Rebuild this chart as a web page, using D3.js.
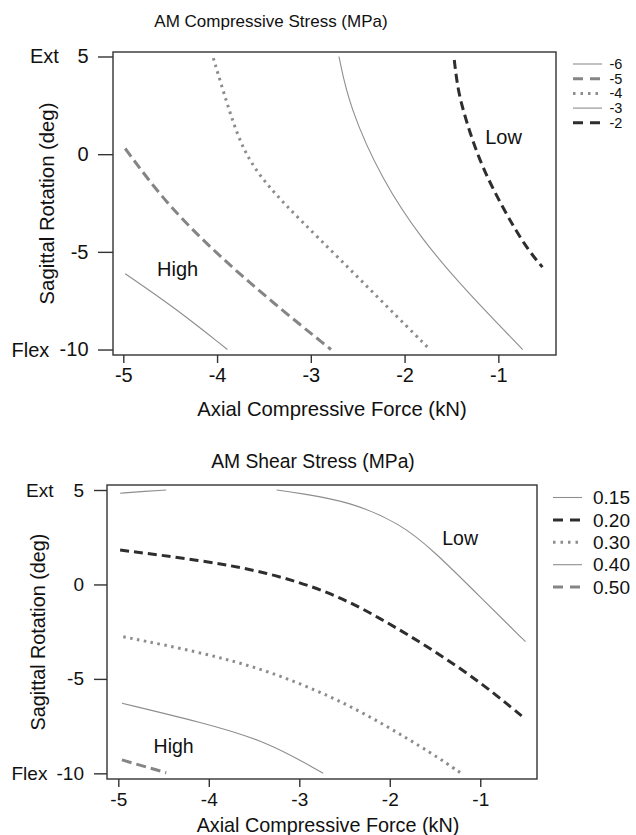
<!DOCTYPE html>
<html>
<head>
<meta charset="utf-8">
<script src="https://cdn.jsdelivr.net/npm/d3@7/dist/d3.min.js"></script>
<style>
  html, body { margin: 0; padding: 0; background: #fff; }
  svg { display: block; }
  text { font-family: "Liberation Sans", Arial, Helvetica, sans-serif; fill: #111; }
</style>
</head>
<body>
<script>
// ---------- DATA ----------
const xTicks = [-5, -4, -3, -2, -1];
const yTicks = [5, 0, -5, -10];

// Top panel: AM Compressive Stress (MPa) contours, [axial force kN, sagittal rotation deg]
const compLevels = ["-6", "-5", "-4", "-3", "-2"];
const comp_m6 = [[-4.98, -6.12], [-4.44, -7.90], [-3.89, -10.0]];
const comp_m5 = [[-4.98, 0.29], [-4.555, -2.46], [-4.02, -5.03], [-3.435, -7.49], [-2.785, -10.0]];
const comp_m4 = [[-4.04, 4.92], [-3.89, 2.51], [-3.71, -0.05], [-3.42, -1.85], [-3.11, -3.38], [-2.70, -5.33], [-2.22, -7.64], [-1.74, -9.95]];
const comp_m3 = [[-2.70, 5.0], [-2.59, 2.43], [-2.24, -1.33], [-1.81, -4.41], [-1.35, -6.97], [-0.74, -10.0]];
const comp_m2 = [[-1.47, 4.82], [-1.44, 3.60], [-1.39, 2.43], [-1.21, -0.31], [-0.96, -2.70], [-0.71, -4.75], [-0.53, -5.78]];
const compSeries = [[comp_m6], [comp_m5], [comp_m4], [comp_m3], [comp_m2]];

// Bottom panel: AM Shear Stress (MPa) contours
const shearLevels = ["0.15", "0.20", "0.30", "0.40", "0.50"];
const shear_015a = [[-4.98, 4.83], [-4.70, 4.93], [-4.47, 5.0]];
const shear_015b = [[-3.25, 5.0], [-2.993, 4.83], [-2.44, 4.38], [-1.889, 3.24], [-1.52, 1.82], [-0.93, -1.0], [-0.50, -3.03]];
const shear_020 = [[-4.98, 1.82], [-4.097, 1.29], [-3.36, 0.66], [-2.626, -0.45], [-2.07, -1.88], [-1.52, -3.47], [-0.97, -5.27], [-0.51, -7.09]];
const shear_030 = [[-4.945, -2.77], [-4.098, -3.58], [-3.36, -4.53], [-2.626, -5.96], [-2.07, -7.39], [-1.52, -8.98], [-1.21, -10.0]];
const shear_040 = [[-4.96, -6.29], [-4.098, -7.28], [-3.36, -8.29], [-2.736, -10.0]];
const shear_050 = [[-4.96, -9.29], [-4.47, -9.97]];
const shearSeries = [[shear_015a, shear_015b], [shear_020], [shear_030], [shear_040], [shear_050]];

// ---------- STYLES ----------
const lineStyles = {
  thin:     { stroke: "#8e8e8e", width: 1.1, dash: null,      legendDash: null },
  grayDash: { stroke: "#858585", width: 3,   dash: "10,5",    legendDash: "10,7" },
  dotted:   { stroke: "#8c8c8c", width: 3,   dash: "2.5,4.5", legendDash: "2.5,5" },
  darkDash: { stroke: "#2e2e2e", width: 3,   dash: "9,5",     legendDash: "10,7" }
};
const compStyleKeys = ["thin", "grayDash", "dotted", "thin", "darkDash"];
const shearStyleKeys = ["thin", "darkDash", "dotted", "thin", "grayDash"];

const W = 636, H = 835;
const svg = d3.select("body").append("svg").attr("width", W).attr("height", H);

function panel(cfg) {
  const x = d3.scaleLinear().domain(cfg.xDom).range([cfg.left, cfg.right]);
  const y = d3.scaleLinear().domain(cfg.yDom).range([cfg.bottom, cfg.top]);
  const g = svg.append("g");

  g.append("text").attr("x", cfg.titleX).attr("y", cfg.titleY)
    .attr("text-anchor", "middle").style("font-size", cfg.titleSize + "px").text(cfg.title);

  g.append("rect").attr("x", cfg.left).attr("y", cfg.top)
    .attr("width", cfg.right - cfg.left).attr("height", cfg.bottom - cfg.top)
    .attr("fill", "none").attr("stroke", "#333").attr("stroke-width", 1.4);

  const ax = g.append("g").attr("transform", `translate(0,${cfg.bottom})`)
    .call(d3.axisBottom(x).tickValues(xTicks).tickSize(cfg.xTickLen).tickPadding(cfg.xPad).tickFormat(d => String(d)));
  ax.select(".domain").remove();
  ax.selectAll("line").attr("stroke", "#333").attr("stroke-width", 1.4);
  ax.selectAll("text").style("font-size", cfg.tickSize + "px").attr("fill", "#111");

  const ay = g.append("g").attr("transform", `translate(${cfg.left},0)`)
    .call(d3.axisLeft(y).tickValues(yTicks).tickSize(cfg.yTickLen).tickPadding(cfg.yPad).tickFormat(d => String(d)));
  ay.select(".domain").remove();
  ay.selectAll("line").attr("stroke", "#333").attr("stroke-width", 1.4);
  ay.selectAll("text").style("font-size", cfg.tickSize + "px").attr("fill", "#111");

  g.append("text").attr("x", cfg.extX).attr("y", y(5)).attr("dy", "0.35em")
    .style("font-size", cfg.tickSize + "px").text("Ext");
  g.append("text").attr("x", cfg.flexX).attr("y", y(-10)).attr("dy", "0.35em")
    .style("font-size", cfg.tickSize + "px").text("Flex");

  g.append("text").attr("x", cfg.xTitleX).attr("y", cfg.xTitleY).attr("text-anchor", "middle")
    .style("font-size", cfg.axisTitleSize + "px").text("Axial Compressive Force (kN)");
  g.append("text").attr("transform", `translate(${cfg.yTitleX},${(cfg.top + cfg.bottom) / 2}) rotate(-90)`)
    .attr("text-anchor", "middle").style("font-size", cfg.axisTitleSize + "px").text("Sagittal Rotation (deg)");

  const line = d3.line().x(d => x(d[0])).y(d => y(d[1])).curve(d3.curveBasis);
  cfg.series.forEach((segs, i) => {
    const st = lineStyles[cfg.styleKeys[i]];
    segs.forEach(seg => {
      g.append("path").datum(seg).attr("d", line)
        .attr("fill", "none").attr("stroke", st.stroke).attr("stroke-width", st.width)
        .attr("stroke-dasharray", st.dash).attr("stroke-linecap", "butt");
    });
  });

  g.append("text").attr("x", x(cfg.high[0])).attr("y", y(cfg.high[1]))
    .style("font-size", cfg.annSize + "px").text("High");
  g.append("text").attr("x", x(cfg.low[0])).attr("y", y(cfg.low[1]))
    .style("font-size", cfg.annSize + "px").text("Low");

  const lg = g.append("g");
  cfg.levels.forEach((lv, i) => {
    const st = lineStyles[cfg.styleKeys[i]];
    const yy = cfg.legY0 + i * cfg.legStep;
    lg.append("line").attr("x1", cfg.legX1).attr("x2", cfg.legX2).attr("y1", yy).attr("y2", yy)
      .attr("stroke", st.stroke).attr("stroke-width", st.width).attr("stroke-dasharray", st.legendDash);
    lg.append("text").attr("x", cfg.legTextX).attr("y", yy).attr("dy", "0.35em")
      .style("font-size", cfg.legSize + "px").text(lv);
  });
}

panel({
  title: "AM Compressive Stress (MPa)", titleX: 271, titleY: 27, titleSize: 17,
  left: 113, right: 556, top: 52, bottom: 355,
  xDom: [-5.11, -0.385], yDom: [-10.28, 5.23],
  xTickLen: 8, xPad: 5, yTickLen: 15, yPad: 9.5, tickSize: 20,
  extX: 30, flexX: 11.5,
  xTitleX: 332, xTitleY: 416, yTitleX: 54, axisTitleSize: 20.3,
  series: compSeries, levels: compLevels, styleKeys: compStyleKeys,
  high: [-4.64, -6.26], low: [-1.14, 0.51], annSize: 20,
  legX1: 573, legX2: 602, legTextX: 609.5, legY0: 64, legStep: 14.7, legSize: 14.5
});

panel({
  title: "AM Shear Stress (MPa)", titleX: 313, titleY: 468, titleSize: 19.3,
  left: 107, right: 537, top: 485, bottom: 779,
  xDom: [-5.125, -0.373], yDom: [-10.30, 5.265],
  xTickLen: 8, xPad: 6, yTickLen: 13, yPad: 10, tickSize: 19,
  extX: 26, flexX: 11.5,
  xTitleX: 328, xTitleY: 832, yTitleX: 44.5, axisTitleSize: 19.8,
  series: shearSeries, levels: shearLevels, styleKeys: shearStyleKeys,
  high: [-4.61, -8.91], low: [-1.42, 2.09], annSize: 19.5,
  legX1: 553, legX2: 582, legTextX: 593, legY0: 497.5, legStep: 22.4, legSize: 19
});
</script>
</body>
</html>
